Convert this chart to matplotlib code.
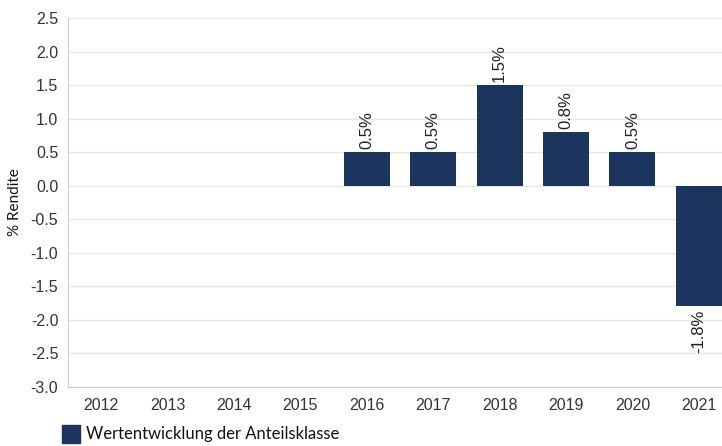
import matplotlib
matplotlib.use('Agg')
import matplotlib.pyplot as plt
import numpy as np
from matplotlib.patches import Rectangle

years = ['2012', '2013', '2014', '2015', '2016', '2017', '2018', '2019', '2020', '2021']
returns = [np.nan, np.nan, np.nan, np.nan, 0.5, 0.5, 1.5, 0.8, 0.5, -1.8]
yticks = np.arange(-3.0, 2.51, 0.5)

bar_color = '#1c355e'
grid_color = '#e6e6e6'
cond_font = ['Liberation Sans Narrow', 'Lato', 'DejaVu Sans']
plt.rcParams['font.family'] = ['Liberation Sans', 'DejaVu Sans']

fig = plt.figure(figsize=(7.22, 4.46), dpi=100)
ax = fig.add_axes([68 / 722, 1 - 387 / 446, (732 - 68) / 722, (387 - 18) / 446])

x = np.arange(len(years))
ax.bar(x, returns, width=0.69, color=bar_color, zorder=3)

for xi, v in zip(x, returns):
    if np.isnan(v):
        continue
    if v >= 0:
        ax.text(xi, v + 0.04, f'{v:.1f}%', rotation=90, ha='center', va='bottom',
                fontsize=12, color='#222222')
    else:
        ax.text(xi, v - 0.04, f'{v:.1f}%', rotation=90, ha='center', va='top',
                fontsize=12, color='#222222')

ax.set_xlim(-0.5, len(years) - 0.5)
ax.set_ylim(-3.0, 2.5)
ax.set_yticks(yticks)
ax.set_yticklabels([f'{t:.1f}' for t in yticks])
ax.set_xticks(x)
ax.set_xticklabels(years)
ax.tick_params(axis='both', length=0, labelsize=11.5, labelcolor='#333333')
ax.tick_params(axis='y', pad=7)
ax.tick_params(axis='x', pad=8)
ax.grid(axis='y', color=grid_color, linewidth=1, zorder=0)

for side in ['top', 'right']:
    ax.spines[side].set_visible(False)
ax.spines['left'].set_color('#cccccc')
ax.spines['bottom'].set_color('#cccccc')

ax.set_ylabel('% Rendite', family=cond_font, fontsize=11, color='#111111', labelpad=6)

# legend
fig.patches.append(Rectangle((62 / 722, 1 - 443 / 446), 18 / 722, 18 / 446,
                             transform=fig.transFigure, color=bar_color))
fig.text(86 / 722, 1 - 434 / 446, 'Wertentwicklung der Anteilsklasse', family=cond_font,
         fontsize=12, color='#111111', va='center', ha='left')

fig.savefig('out.png', dpi=100)
